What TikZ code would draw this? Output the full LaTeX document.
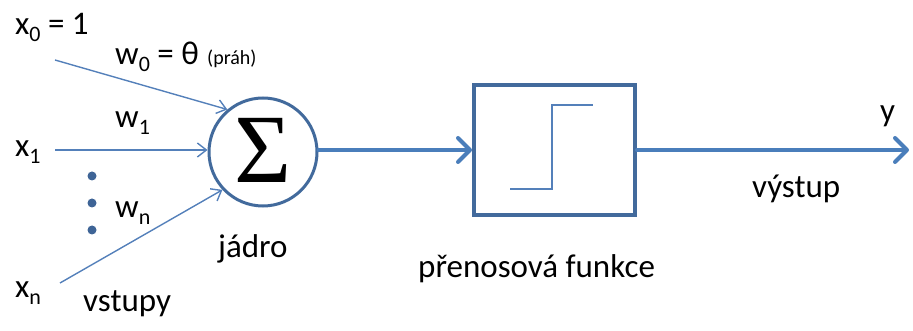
\documentclass[tikz,border=0pt]{standalone}
\usepackage{fontspec}
\setmainfont{Carlito}
\newfontfamily\sigmafont{Liberation Serif}
\usetikzlibrary{arrows.meta}
\definecolor{thinblue}{RGB}{84,128,186}
\definecolor{thickblue}{RGB}{74,126,187}
\definecolor{edgeblue}{RGB}{66,106,156}
\definecolor{dotblue}{RGB}{62,100,150}
% lowered index in the running text font
\newcommand{\ix}[1]{\raisebox{-7pt}{\fontsize{22}{22}\selectfont #1}}
\begin{document}
\begin{tikzpicture}[x=1pt,y=-1pt,
  lbl/.style={anchor=base west,inner sep=0pt,font=\fontsize{33}{40}\selectfont},
  thinarrow/.style={thinblue,line width=1.4pt,-{Straight Barb[length=9pt,width=14pt]}},
  thickarrow/.style={thickblue,line width=4pt,line cap=round,-{Straight Barb[length=12pt,width=24pt,line cap=round,line join=round]}},
  dotmark/.style={circle,fill=dotblue,inner sep=0pt,minimum size=9pt},
  sumnode/.style={circle,draw=edgeblue,line width=3pt,fill=white,minimum size=108pt,inner sep=0pt},
  boxnode/.style={rectangle,draw=edgeblue,line width=4pt,fill=white,minimum width=161pt,minimum height=130pt,inner sep=0pt}
]
\useasboundingbox (0,0) rectangle (913,331);

% summation core and transfer block
\node[sumnode] (sum) at (263,152) {\raisebox{4pt}{\fontsize{98}{98}\sigmafont Σ}};
\node[boxnode] (box) at (554.5,150) {};
\draw[thinblue,line width=2pt] (510,189) -- (552,189) -- (552,105) -- (593,105);

% inputs
\coordinate (in0) at (55,60);
\coordinate (in1) at (55,150);
\coordinate (inn) at (60,283);
\draw[thinarrow] (in0) -- (sum.130);
\draw[thinarrow] (in1) -- (sum.west |- in1);
\draw[thinarrow] (inn) -- (sum.223);

\node[dotmark] (d1) at (92,176) {};
\node[dotmark] (d2) at (92,203) {};
\node[dotmark] (d3) at (92,230) {};

% signal flow
\coordinate (yend) at (909,150);
\draw[thickarrow] (sum.east |- box.west) -- (box.west);
\draw[thickarrow] (box.east) -- (yend);

% labels
\node[lbl] (lx0) at (15,35) {x\ix{0} = 1};
\node[lbl] (lw0) at (115,65) {w\ix{0} = θ};
\node[lbl,font=\fontsize{20}{24}\selectfont] (lprah) at (207,65) {(práh)};
\node[lbl] (lw1) at (115,128) {w\ix{1}};
\node[lbl] (lx1) at (15,157) {x\ix{1}};
\node[lbl] (lwn) at (115,218) {w\ix{n}};
\node[lbl] (lxn) at (15,297) {x\ix{n}};
\node[lbl] (lin) at (83,311) {vstupy};
\node[lbl] (lcore) at (218,258) {jádro};
\node[lbl] (lfun) at (418,277) {přenosová funkce};
\node[lbl] (lout) at (752,198) {výstup};
\node[lbl] (ly) at (880,122) {y};
\end{tikzpicture}
\end{document}
